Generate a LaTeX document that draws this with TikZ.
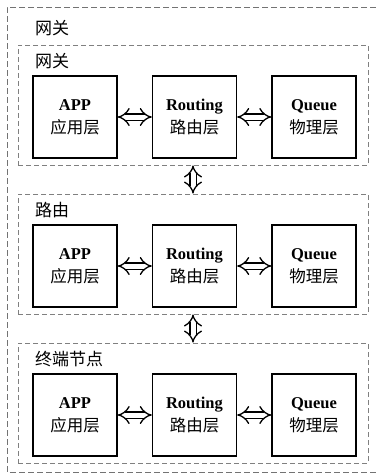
\documentclass[tikz,border=0pt]{standalone}
\usepackage{fontspec}
\setmainfont{Liberation Serif}
\newfontfamily\cjk{Noto Sans CJK SC}
\usetikzlibrary{arrows.meta,positioning}

\begin{document}
\begin{tikzpicture}[x=1pt,y=-1pt,
    layer/.style={draw,line width=1.4pt,minimum width=84pt,minimum height=82pt,
                  align=center,font=\fontsize{16.5}{23}\selectfont},
    panel/.style={draw=gray,dash pattern=on 5pt off 3pt,line width=0.9pt,
                  minimum width=350pt,minimum height=120pt},
    dbl/.style={double,double distance=5pt,line width=1.3pt,
                {Implies[scale=1.6]}-{Implies[scale=1.6]}},
    tag/.style={anchor=west,inner sep=0pt,font=\cjk\fontsize{17}{19}\selectfont}]
    \useasboundingbox (0,0) rectangle (375,474);
    % outer frame
    \draw [gray!90!black,dash pattern=on 6pt off 3pt,line width=0.9pt]
          (376,7) -- (7,7) -- (7,472) -- (376,472);
    \node [tag] (t0) at (35,28) {网关};

    % gateway / router / end node
    \foreach \i/\py/\lbl in {1/105/网关,2/254/路由,3/403/终端节点}{
      \node [panel] (p\i) at (193,\py) {};
      \node [tag] (t\i) at (35,\py-44) {\lbl};
      \node [layer] (app\i)  at (75,\py+12)    {\textbf{APP}\\{\cjk 应用层}};
      \node [layer] (rout\i) at (194.5,\py+12) {\textbf{Routing}\\{\cjk 路由层}};
      \node [layer] (que\i)  at (314,\py+12)   {\textbf{Queue}\\{\cjk 物理层}};
      \draw [dbl] (app\i) -- (rout\i);
      \draw [dbl] (rout\i) -- (que\i);
    }
    \draw [dbl] (p1) -- (p2);
    \draw [dbl] (p2) -- (p3);
\end{tikzpicture}
\end{document}
